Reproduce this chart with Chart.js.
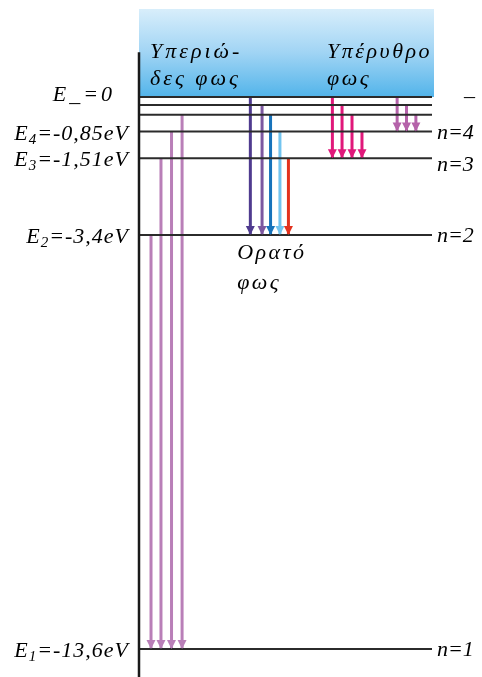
<!DOCTYPE html>
<html>
<head>
<meta charset="utf-8">
<script src="https://cdn.jsdelivr.net/npm/chart.js"></script>
<style>
  html, body { margin: 0; padding: 0; background: #fff; }
  #wrap { width: 482px; height: 677px; }
</style>
</head>
<body>
<div id="wrap"><canvas id="levels" width="482" height="677"></canvas></div>
<script>
// energy levels (eV); n=6 and n=5 are estimated from the drawing
const levelN = ['∞', 6, 5, 4, 3, 2, 1];
const levelEnergy = [0, -0.2, -0.44, -0.85, -1.51, -3.4, -13.6];

// left labels: [subscript, value text, level index]
const leftLabels = [
    ['_', '=0', 0],
    ['4', '=-0,85eV', 3],
    ['3', '=-1,51eV', 4],
    ['2', '=-3,4eV', 5],
    ['1', '=-13,6eV', 6]
];
const rightLabels = [['–', 0], ['n=4', 3], ['n=3', 4], ['n=2', 5], ['n=1', 6]];

// transitions: start level (index into levelN), end level, horizontal slot
const lymanFrom = [5, 4, 3, 2];
const lymanX = [4.1, 7.5, 11.1, 14.7];
const balmerFrom = [0, 1, 2, 3, 4];
const balmerX = [38.0, 42.0, 44.9, 48.1, 51.0];
const balmerColors = ['#4f3b8f', '#7d58a0', '#1773bb', '#72c4ef', '#e2321e'];
const paschenFrom = [0, 1, 2, 3];
const paschenX = [66.0, 69.3, 72.7, 76.1];
const brackettFrom = [0, 1, 2];
const brackettX = [88.1, 91.3, 94.5];

const datasets = [];

levelEnergy.forEach((e) => {
    datasets.push({
        data: [{ x: 0, y: e }, { x: 100, y: e }],
        borderColor: '#2b2b2b',
        borderWidth: 2,
        pointRadius: 0
    });
});

function addSeries(from, xs, toIdx, colors) {
    from.forEach((f, i) => {
        datasets.push({
            data: [{ x: xs[i], y: levelEnergy[f] }, { x: xs[i], y: levelEnergy[toIdx] }],
            borderColor: Array.isArray(colors) ? colors[i] : colors,
            borderWidth: 3,
            borderCapStyle: 'butt',
            pointRadius: 0,
            arrow: true
        });
    });
}

addSeries(lymanFrom, lymanX, 6, '#b97fb8');
addSeries(balmerFrom, balmerX, 5, balmerColors);
addSeries(paschenFrom, paschenX, 4, '#e0187a');
addSeries(brackettFrom, brackettX, 3, '#b563aa');

const FONT = 'italic 22px "Liberation Serif", "DejaVu Serif", serif';
const SUBFONT = 'italic 15px "Liberation Serif", "DejaVu Serif", serif';

const decor = {
    id: 'decor',
    beforeDatasetsDraw(chart) {
        const { ctx, chartArea, scales } = chart;
        const y0 = scales.y.getPixelForValue(0);
        const g = ctx.createLinearGradient(0, chartArea.top, 0, y0);
        g.addColorStop(0, '#d8eefb');
        g.addColorStop(0.5, '#a0d4f4');
        g.addColorStop(1, '#52b4ea');
        ctx.save();
        ctx.fillStyle = g;
        ctx.fillRect(chartArea.left, chartArea.top, chartArea.right - chartArea.left + 2, y0 - chartArea.top);
        ctx.restore();
    },
    afterDatasetsDraw(chart) {
        const { ctx, chartArea, scales } = chart;
        const xs = scales.x, ys = scales.y;
        ctx.save();

        // arrow heads
        chart.data.datasets.forEach((ds, i) => {
            if (!ds.arrow) return;
            const p = chart.getDatasetMeta(i).data[1];
            ctx.fillStyle = ds.borderColor;
            ctx.beginPath();
            ctx.moveTo(p.x, p.y);
            ctx.lineTo(p.x - 4.5, p.y - 9);
            ctx.lineTo(p.x + 4.5, p.y - 9);
            ctx.closePath();
            ctx.fill();
        });

        // vertical axis
        ctx.strokeStyle = '#1a1a1a';
        ctx.lineWidth = 2.5;
        ctx.beginPath();
        ctx.moveTo(chartArea.left, ys.getPixelForValue(1.1));
        ctx.lineTo(chartArea.left, chartArea.bottom);
        ctx.stroke();

        ctx.fillStyle = '#000';
        ctx.textBaseline = 'alphabetic';

        // left labels, right aligned
        leftLabels.forEach(([sub, rest, idx]) => {
            const right = idx === 0 ? chartArea.left - 24 : chartArea.left - 10;
            const base = ys.getPixelForValue(levelEnergy[idx]) + (idx === 0 ? 4 : 8);
            ctx.letterSpacing = idx === 0 ? '3px' : '1px';
            ctx.font = FONT;
            const wE = ctx.measureText('E').width;
            const wR = ctx.measureText(rest).width;
            ctx.font = idx === 0 ? FONT : SUBFONT;
            const wS = ctx.measureText(sub).width;
            let x = right - wE - wS - wR;
            ctx.textAlign = 'left';
            ctx.font = FONT;
            ctx.fillText('E', x, base);
            x += wE;
            if (idx === 0) {
                ctx.fillText(sub, x, base);
            } else {
                ctx.font = SUBFONT;
                ctx.fillText(sub, x, base + 4);
            }
            x += wS;
            ctx.font = FONT;
            ctx.fillText(rest, x, base);
        });

        // right labels
        ctx.font = FONT;
        ctx.letterSpacing = '0px';
        rightLabels.forEach(([txt, idx]) => {
            const yy = ys.getPixelForValue(levelEnergy[idx]);
            if (idx === 0) {
                ctx.fillText(txt, chartArea.right + 32, yy + 6);
            } else {
                ctx.fillText(txt, chartArea.right + 5, yy + (idx === 4 ? 13 : 7));
            }
        });

        // region captions
        ctx.letterSpacing = '3px';
        ctx.fillText('Υπεριώ-', chartArea.left + 11, 58);
        ctx.fillText('δες φως', chartArea.left + 11, 85);
        ctx.letterSpacing = '2.5px';
        ctx.fillText('Υπέρυθρο', xs.getPixelForValue(64.2), 58);
        ctx.fillText('φως', xs.getPixelForValue(64.2), 85);
        ctx.fillText('Ορατό', xs.getPixelForValue(33.5), ys.getPixelForValue(levelEnergy[5]) + 24);
        ctx.fillText('φως', xs.getPixelForValue(33.5), ys.getPixelForValue(levelEnergy[5]) + 54);
        ctx.restore();
    }
};

new Chart(document.getElementById('levels'), {
    type: 'line',
    data: { datasets: datasets },
    options: {
        responsive: false,
        animation: false,
        layout: { padding: { left: 139, right: 50, top: 9, bottom: 0 } },
        scales: {
            x: { type: 'linear', min: 0, max: 100, display: false },
            y: { type: 'linear', min: -14.289, max: 2.168, display: false }
        },
        plugins: {
            legend: { display: false },
            tooltip: { enabled: false }
        }
    },
    plugins: [decor]
});
</script>
</body>
</html>
